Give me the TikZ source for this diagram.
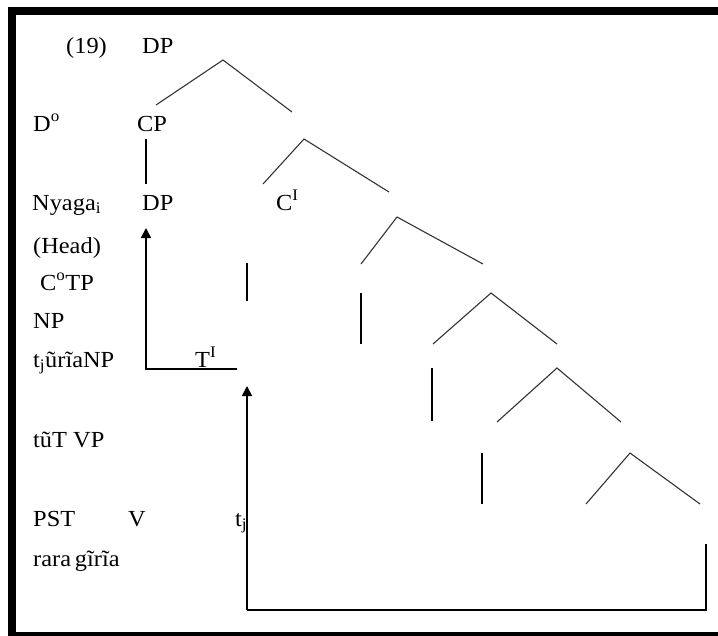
\documentclass[tikz,border=0pt]{standalone}
\usepackage{fontspec}
\setmainfont[FakeStretch=1.06]{Liberation Serif}
\usetikzlibrary{arrows.meta}
\begin{document}
\begin{tikzpicture}[x=1pt,y=-1pt,
  lbl/.style={anchor=base west,inner sep=0pt,font=\fontsize{23}{27}\selectfont},
  branch/.style={draw=black!80,line width=1.1pt},
  stem/.style={draw=black,line width=1.4pt},
  bracket/.style={draw=black,line width=1.8pt},
  move/.style={draw=black,line width=1.6pt,-{Triangle[width=10pt,length=10pt]}}]
\useasboundingbox (0,0) rectangle (718,635);
% frame
\fill[black] (8,7) rectangle (16,635);
\fill[black] (8,7) rectangle (718,15);
\fill[black] (8,632) rectangle (718,640);
% labels
\node[lbl] (ex) at (66,53) {(19)};
\node[lbl] (dptop) at (142,53) {DP};
\node[lbl] (d0) at (33,131) {D\textsuperscript{o}};
\node[lbl] (cp) at (137,131) {CP};
\node[lbl] (nyaga) at (32,210) {Nyaga\textsubscript{i}};
\node[lbl] (dp2) at (142,210) {DP};
\node[lbl] (cbar) at (276,210) {C\textsuperscript{I}};
\node[lbl] (head) at (33,253) {(Head)};
\node[lbl] (c0tp) at (40,290) {C\textsuperscript{o}TP};
\node[lbl] (np) at (33,328) {NP};
\node[lbl] (turia) at (33,367) {t\textsubscript{j}ũrĩaNP};
\node[lbl] (tbar) at (195,367) {T\textsuperscript{I}};
\node[lbl] (tut) at (33,447) {tũT VP};
\node[lbl] (pst) at (33,526) {PST};
\node[lbl] (v) at (128,526) {V};
\node[lbl] (tj) at (235,526) {t\textsubscript{j}};
\node[lbl] (rara) at (33,566) {rara\,gĩrĩa};
% coordinates of tree
\coordinate (a1) at (223,60); \coordinate (a1l) at (156,105); \coordinate (a1r) at (292,112);
\coordinate (s1t) at (146,139); \coordinate (s1b) at (146,184);
\coordinate (a2) at (304,139); \coordinate (a2l) at (263,184); \coordinate (a2r) at (389,192);
\coordinate (s2t) at (247,263); \coordinate (s2b) at (247,301);
\coordinate (a3) at (397,217); \coordinate (a3l) at (361,264); \coordinate (a3r) at (483,264);
\coordinate (s3t) at (361,293); \coordinate (s3b) at (361,344);
\coordinate (a4) at (491,293); \coordinate (a4l) at (433,344); \coordinate (a4r) at (557,344);
\coordinate (s4t) at (432,368); \coordinate (s4b) at (432,421);
\coordinate (a5) at (557,368); \coordinate (a5l) at (497,422); \coordinate (a5r) at (621,422);
\coordinate (s5t) at (482,453); \coordinate (s5b) at (482,504);
\coordinate (a6) at (630,453); \coordinate (a6l) at (586,504); \coordinate (a6r) at (700,504);
\coordinate (s6t) at (706,544); \coordinate (br) at (706,610); \coordinate (bl) at (247,610);
\coordinate (tip1) at (247,386);
\coordinate (h2r) at (237,369); \coordinate (h2l) at (146,369); \coordinate (tip2) at (146,228);
% branches
\draw[branch] (a1l) -- (a1) -- (a1r);
\draw[stem] (s1t) -- (s1b);
\draw[branch] (a2l) -- (a2) -- (a2r);
\draw[stem] (s2t) -- (s2b);
\draw[branch] (a3l) -- (a3) -- (a3r);
\draw[stem] (s3t) -- (s3b);
\draw[branch] (a4l) -- (a4) -- (a4r);
\draw[stem] (s4t) -- (s4b);
\draw[branch] (a5l) -- (a5) -- (a5r);
\draw[stem] (s5t) -- (s5b);
\draw[branch] (a6l) -- (a6) -- (a6r);
% movement arrows
\draw[bracket] (s6t) -- (br) -- (bl);
\draw[move] (bl) -- (tip1);
\draw[move] (h2r) -- (h2l) -- (tip2);
\end{tikzpicture}
\end{document}
